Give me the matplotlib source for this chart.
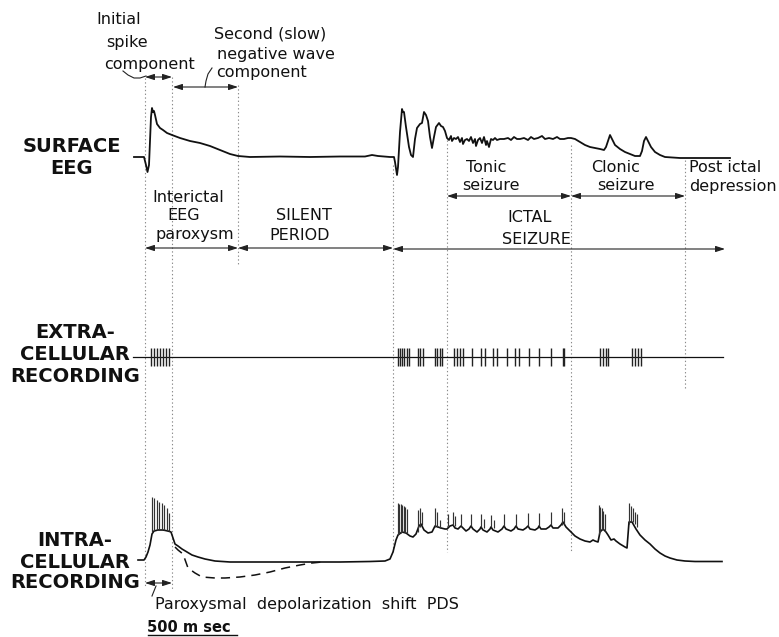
import matplotlib
matplotlib.use("Agg")
import matplotlib.pyplot as plt

# ---------------------------------------------------------------
# Phase boundaries on the shared time axis (arbitrary drawing units,
# 500 ms ~ 89 units)
# ---------------------------------------------------------------
t_onset = 145
t_spike_end = 172
t_parox_end = 238
t_ictal = 393
t_tonic = 447
t_clonic = 571
t_postictal = 685
t_end = 725

# ---------------------------------------------------------------
# Surface EEG: time and deflection (upward positive)
# ---------------------------------------------------------------
eeg_t = [134, 144, 146, 147.5, 149, 151, 152, 153, 154, 155, 157, 160, 163, 167,
         172, 180, 190, 200, 210, 220, 230, 238, 250, 280, 310, 340, 365, 372,
         378, 390, 394, 395, 397, 398, 400, 402, 403, 404, 406, 409, 411, 413,
         415, 417, 420, 422, 424, 426, 428, 430, 432, 434, 436, 439, 441, 443,
         445, 447, 449, 451, 452, 454, 456, 458, 460, 462, 463, 465, 467, 469,
         471, 473, 475, 476, 478, 480, 482, 484, 486, 487, 489, 491, 493, 495,
         497, 500, 504, 508, 511, 514, 517, 520, 524, 528, 531, 534, 538, 542,
         545, 549, 553, 557, 560, 564, 568, 571, 575, 580, 585, 590, 595, 600,
         604, 606, 608, 610, 612, 615, 620, 625, 630, 635, 640, 642, 644, 646,
         648, 651, 655, 660, 665, 680, 700, 730]
eeg_v = [0, 0, -8, -15, -8, 40, 49, 45, 46, 42, 33, 29, 27, 24,
         22, 19, 16, 14, 11, 7, 3, 1, 0, 0.5, 0, 0.5, 0.5, 2,
         1, 0, 0, -5, -18, -10, 25, 48, 45, 45, 30, 10, 2, 0,
         18, 29, 33, 34, 45, 42, 36, 20, 9, 20, 30, 34, 31, 30,
         26, 19, 17, 21, 16, 19, 18, 20, 15, 19, 13, 17, 18, 16,
         20, 14, 18, 11, 17, 19, 14, 20, 12, 16, 10, 18, 17, 19,
         17, 18, 18, 19, 17, 20, 18, 18, 19, 17, 20, 18, 19, 21,
         18, 19, 18, 20, 18, 18, 19, 19, 18, 15, 12, 10, 9, 8,
         7, 10, 16, 22, 18, 12, 8, 5, 3, 1, 1, 6, 16, 20,
         16, 10, 5, 2, 0, -1, -1, -1]

# ---------------------------------------------------------------
# Extracellular recording: unit discharge times
# ---------------------------------------------------------------
extra_start, extra_stop = 133, 723
unit_times = [151, 154, 157, 160, 163, 166, 169,
              398, 400, 402, 404, 407, 409,
              418, 420, 423,
              435, 437, 440, 442,
              454, 457, 460, 463,
              472, 481, 485, 493, 497, 507, 515, 519, 529, 539, 551, 563, 564,
              600, 603, 606, 608,
              632, 635, 638, 641]

# ---------------------------------------------------------------
# Intracellular recording: slow membrane potential (upward positive)
# ---------------------------------------------------------------
intra_t = [138, 144, 146, 148, 150, 152, 154, 158, 163, 168, 171, 173, 175,
           178, 182, 187, 192, 198, 205, 215, 230, 260, 300, 340, 370, 385,
           390, 393, 396, 398, 402, 406, 410, 413, 416, 419, 421, 424, 428,
           432, 435, 438, 441, 445, 447, 450, 453, 455, 458, 461, 463, 466,
           469, 471, 473, 477, 480, 481, 483, 487, 490, 491, 493, 498, 502,
           504, 506, 511, 514, 516, 518, 523, 526, 528, 530, 535, 538, 539,
           541, 546, 549, 551, 553, 558, 561, 563, 566, 570, 575, 580, 585,
           590, 593, 595, 598, 600, 603, 606, 608, 611, 614, 616, 620, 625,
           627, 629, 632, 636, 640, 645, 650, 655, 660, 665, 670, 677, 685,
           695, 722]
intra_v = [2, 2, 5, 10, 17, 28, 31, 32, 32, 31, 30, 24, 18,
           16, 13, 10, 7, 5, 3, 1, 0, 0, 0, 0, 0.5, 1,
           3, 10, 22, 27, 30, 29, 26, 25, 28, 36, 38, 32, 29,
           30, 36, 35, 34, 33, 33, 36, 37, 34, 33, 36, 34, 31,
           33, 36, 33, 30, 33, 35, 32, 30, 33, 35, 32, 30, 33,
           36, 33, 31, 33, 36, 33, 32, 34, 36, 33, 32, 34, 36,
           33, 33, 35, 37, 34, 34, 37, 40, 35, 31, 26, 23, 21,
           20, 22, 21, 20, 30, 33, 30, 27, 22, 23, 21, 18, 15,
           14, 40, 40, 33, 27, 22, 18, 13, 9, 6, 4, 2, 1,
           0.5, 0.5]

# Hyperpolarised course after the PDS (dashed)
pds_dash_t = [175, 178, 183, 188, 195, 202, 215, 225, 240, 255, 270, 285, 300, 312, 322]
pds_dash_v = [15, 12, 8, -6, -11, -15, -16, -16, -15, -13, -10, -6, -3, -1, 0]

# Action potentials riding on the depolarisations: time, base, top
spike_t = [152, 154, 157, 159, 162, 164, 167, 169,
           398, 399.5, 401, 402.5, 404, 405.5, 407,
           418, 420, 422, 435, 437, 440,
           448, 453, 455, 461, 471, 481, 484, 491, 494, 504, 516, 528, 539, 551, 562, 564,
           599, 600.5, 602, 603.5, 605,
           629, 631, 633, 635, 637]
spike_base = [30, 31, 32, 32, 32, 32, 31, 31,
              27, 28, 29, 30, 30, 29, 29,
              30, 35, 37, 35, 35, 34,
              36, 37, 36, 36, 36, 35, 34, 35, 34, 36, 36, 36, 36, 37, 37, 38,
              28, 30, 32, 33, 31,
              38, 40, 40, 38, 35]
spike_top = [65, 64, 62, 60, 59, 57, 54, 49,
             59, 58, 58, 57, 56, 55, 53,
             52, 54, 50, 54, 50, 42,
             48, 50, 46, 48, 48, 48, 43, 47, 42, 48, 48, 49, 49, 50, 54, 50,
             57, 55, 54, 51, 48,
             59, 56, 54, 50, 48]

# ---------------------------------------------------------------
# Drawing
# ---------------------------------------------------------------
eeg_row, extra_row, intra_row = 157, 357, 562
ink = "#111111"
guide = "#8a8a8a"

fig = plt.figure(figsize=(7.79, 6.37), dpi=100)
ax = fig.add_axes([0, 0, 1, 1])
ax.set_xlim(0, 779)
ax.set_ylim(637, 0)
ax.axis("off")

# vertical phase guides (dotted)
guides = [(t_onset, 78, 588), (t_spike_end, 77, 590), (t_parox_end, 85, 265),
          (t_ictal, 165, 552), (t_tonic, 140, 552), (t_clonic, 145, 552),
          (t_postictal, 160, 390)]
for gt, g0, g1 in guides:
    ax.plot([gt, gt], [g0, g1], color=guide, lw=0.8, ls=(0, (1.2, 2.2)), zorder=1)

# surface EEG
ax.plot(eeg_t, [eeg_row - v for v in eeg_v], color=ink, lw=1.3,
        solid_joinstyle="round", zorder=3)

# extracellular trace and unit spikes
ax.plot([extra_start, extra_stop], [extra_row, extra_row], color=ink, lw=0.9, zorder=3)
ax.vlines(unit_times, extra_row - 9, extra_row + 9, color="#222222", lw=1.0, zorder=3)

# intracellular trace, PDS dashed course and spikes
ax.plot(intra_t, [intra_row - v for v in intra_v], color=ink, lw=1.2,
        solid_joinstyle="round", zorder=3)
ax.plot(pds_dash_t, [intra_row - v for v in pds_dash_v], color=ink, lw=1.1,
        ls=(0, (6, 4)), zorder=3)
ax.vlines(spike_t, [intra_row - b for b in spike_base],
          [intra_row - tp for tp in spike_top], color="#333333", lw=0.85, zorder=3)


def span(x0, x1, y, style="<|-|>"):
    ax.annotate("", xy=(x1, y), xytext=(x0, y),
                arrowprops=dict(arrowstyle=style + ",head_length=0.55,head_width=0.18",
                                lw=0.8, color="#222222", shrinkA=0, shrinkB=0))


# component brackets on top
span(t_onset, t_spike_end, 77)
span(t_spike_end + 1, t_parox_end, 87)
ax.plot([123, 128, 134, 140, 146], [71, 75, 78, 78, 76], color="#222222", lw=0.8)
ax.plot([212, 208, 206, 205], [68, 74, 81, 87], color="#222222", lw=0.8)

# period brackets
span(t_onset, t_parox_end, 248)
span(t_parox_end, t_ictal, 248)
span(t_ictal, t_end, 249)
span(t_tonic, t_clonic, 196)
span(t_clonic, t_postictal, 196)
span(t_onset, t_spike_end, 583)
ax.plot([156, 152], [586, 596], color="#222222", lw=0.8)

# scale bar
ax.plot([t_onset + 3, t_parox_end - 1], [635, 635], color=ink, lw=1.0)

# thin lettering
thin = dict(fontsize=11.5, color=ink, va="center", ha="left", family="DejaVu Sans")
for txt, x, y in [("Initial", 96, 20), ("spike", 106, 42), ("component", 104, 64),
                  ("Second (slow)", 214, 34), ("negative wave", 217, 55),
                  ("component", 216, 73),
                  ("Interictal", 152, 197), ("EEG", 167, 215), ("paroxysm", 156, 235),
                  ("SILENT", 276, 216), ("PERIOD", 269, 236),
                  ("ICTAL", 507, 217), ("SEIZURE", 502, 239),
                  ("Tonic", 466, 168), ("seizure", 462, 185),
                  ("Clonic", 591, 168), ("seizure", 597, 185),
                  ("Post ictal", 689, 168), ("depression", 689, 186),
                  ("Paroxysmal  depolarization  shift  PDS", 155, 605)]:
    ax.text(x, y, txt, **thin)

ax.text(147, 628, "500 m sec", fontsize=10.5, fontweight="bold", color=ink,
        va="center", ha="left")

# bold channel labels
bold = dict(fontsize=14, fontweight="bold", color=ink, va="center", ha="center",
            family="DejaVu Sans")
for txt, y in [("SURFACE", 146), ("EEG", 169)]:
    ax.text(72, y, txt, **bold)
for txt, y in [("EXTRA-", 333), ("CELLULAR", 355), ("RECORDING", 377)]:
    ax.text(75, y, txt, **bold)
for txt, y in [("INTRA-", 541), ("CELLULAR", 562), ("RECORDING", 582)]:
    ax.text(75, y, txt, **bold)

fig.savefig("out.png", dpi=100, facecolor="white")
